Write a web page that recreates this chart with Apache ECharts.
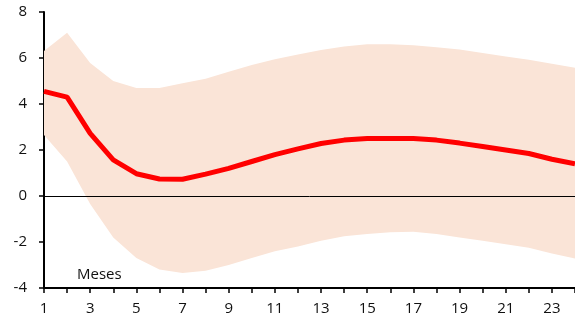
<!DOCTYPE html>
<html><head><meta charset="utf-8">
<script src="https://cdn.jsdelivr.net/npm/echarts@6/dist/echarts.min.js"></script>
<style>html,body{margin:0;padding:0;background:#fff}#c{width:575px;height:320px}</style>
</head><body><div id="c"></div>
<script>
var months = ['1','2','3','4','5','6','7','8','9','10','11','12','13','14','15','16','17','18','19','20','21','22','23','24'];
var central = [4.55,4.3,2.72,1.57,0.97,0.74,0.73,0.95,1.2,1.5,1.8,2.05,2.28,2.43,2.5,2.5,2.5,2.43,2.3,2.15,2.0,1.85,1.6,1.4];
var upper = [6.3,7.1,5.78,5.0,4.7,4.7,4.9,5.1,5.4,5.7,5.95,6.15,6.35,6.5,6.6,6.6,6.55,6.47,6.37,6.22,6.07,5.92,5.75,5.58];
var lower = [2.65,1.5,-0.35,-1.8,-2.7,-3.2,-3.35,-3.25,-3.0,-2.7,-2.4,-2.2,-1.95,-1.75,-1.65,-1.58,-1.55,-1.65,-1.8,-1.95,-2.1,-2.25,-2.5,-2.72];
var yTicks = [-4,-2,0,2,4,6,8];
var xLabel = 'Meses';

var font = '"Open Sans", "Liberation Sans", sans-serif';
var chart = echarts.init(document.getElementById('c'));
chart.setOption({
  animation: false,
  grid: {left: 44, right: -9, top: 12, bottom: 32},
  xAxis: {
    type: 'category', data: months, boundaryGap: false,
    axisLine: {onZero: false, lineStyle: {color: '#000', width: 2}},
    axisTick: {show: true, interval: 0, length: 5, lineStyle: {color: '#000', width: 1.5}},
    axisLabel: {interval: 1, margin: 13, fontSize: 15, fontFamily: font, color: '#111'},
    splitLine: {show: false}
  },
  yAxis: {
    type: 'value', min: yTicks[0], max: yTicks[yTicks.length-1], interval: 2,
    axisLine: {show: true, lineStyle: {color: '#000', width: 2}},
    axisTick: {show: true, length: 5, lineStyle: {color: '#000', width: 1.5}},
    axisLabel: {margin: 17, fontSize: 15, fontFamily: font, color: '#111'},
    splitLine: {show: false}
  },
  series: [
    {type: 'line', stack: 'band', stackStrategy: 'all', symbol: 'none',
     lineStyle: {opacity: 0}, silent: true, data: lower},
    {type: 'line', stack: 'band', stackStrategy: 'all', symbol: 'none',
     lineStyle: {opacity: 0}, areaStyle: {color: '#FAE4D7', opacity: 1}, silent: true,
     data: upper.map(function(u,i){return u - lower[i];})},
    {type: 'line', symbol: 'none', lineStyle: {color: '#FF0000', width: 5},
     data: central,
     markLine: {silent: true, symbol: 'none', label: {show: false},
       lineStyle: {color: '#000', width: 1, type: 'solid'},
       data: [{yAxis: 0}]}, z: 5}
  ],
  graphic: [{type: 'text', left: 77, top: 267,
    style: {text: xLabel, fontSize: 15, fontFamily: font, fill: '#111'}}]
});
</script></body></html>
